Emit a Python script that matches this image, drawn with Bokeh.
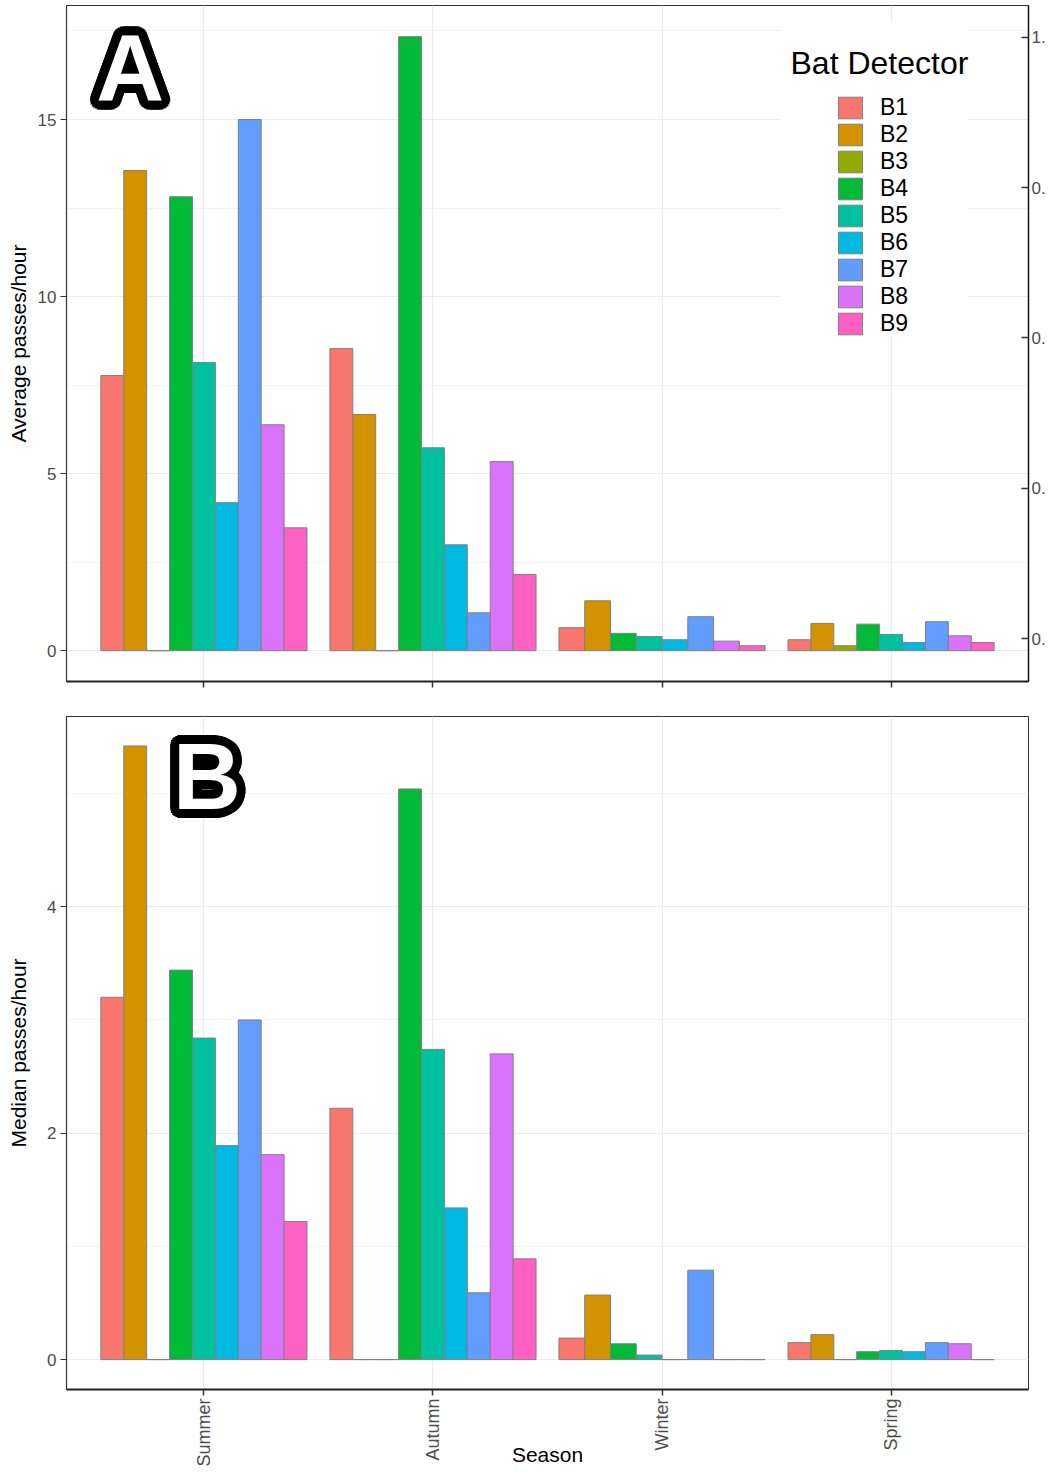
import math
from bokeh.plotting import figure
from bokeh.models import (Range1d, LinearAxis, FixedTicker, SingleIntervalTicker,
                          Label, BoxAnnotation)
from bokeh.layouts import column
from bokeh.embed import file_html
from bokeh.resources import INLINE

# ---------------- data ----------------
seasons = ["Summer", "Autumn", "Winter", "Spring"]
detectors = ["B1", "B2", "B3", "B4", "B5", "B6", "B7", "B8", "B9"]
colors = ["#F8766D", "#D39200", "#93AA00", "#00BA38", "#00C19F",
          "#00B9E3", "#619CFF", "#DB72FB", "#FF61C3"]

# Average passes/hour (None = detector not present that season)
avg_summer = [7.77, 13.56, 0.0, 12.82, 8.14, 4.18, 15.00, 6.38, 3.47]
avg_autumn = [8.53, 6.67, 0.0, 17.34, 5.73, 2.99, 1.07, 5.34, 2.15]
avg_winter = [0.65, 1.41, None, 0.49, 0.40, 0.31, 0.96, 0.27, 0.14]
avg_spring = [0.31, 0.77, 0.14, 0.75, 0.46, 0.23, 0.82, 0.42, 0.23]

# Median passes/hour
med_summer = [3.20, 5.42, 0.0, 3.44, 2.84, 1.89, 3.00, 1.81, 1.22]
med_autumn = [2.22, 0.0, 0.0, 5.04, 2.74, 1.34, 0.59, 2.70, 0.89]
med_winter = [0.19, 0.57, None, 0.14, 0.04, 0.0, 0.79, 0.0, 0.0]
med_spring = [0.15, 0.22, 0.0, 0.07, 0.08, 0.07, 0.15, 0.14, 0.0]

right_ticks = [0, 0.25, 0.5, 0.75, 1.0]
right_tick_labels = ["0.", "0.", "0.", "0.", "1."]

FONT = "Liberation Sans"
GRID = "#EBEBEB"
TICKLAB = "#4D4D4D"


def dodge(values):
    """position_dodge(0.9): split 0.9 of each category among present detectors"""
    out = {d: dict(x=[], top=[], width=[]) for d in detectors}
    for si, vals in enumerate(values):
        present = [i for i, v in enumerate(vals) if v is not None]
        w = 0.9 / len(present)
        for k, i in enumerate(present):
            out[detectors[i]]["x"].append(si + 1 - 0.45 + w * (k + 0.5))
            out[detectors[i]]["top"].append(vals[i])
            out[detectors[i]]["width"].append(w)
    return out


def style(p, ylabel, interval, label_standoff):
    p.outline_line_color = "#333333"
    p.outline_line_width = 1
    p.background_fill_color = "white"
    p.border_fill_color = "white"
    # x
    p.xaxis.ticker = FixedTicker(ticks=[1, 2, 3, 4], minor_ticks=[])
    p.xgrid.ticker = FixedTicker(ticks=[1, 2, 3, 4], minor_ticks=[])
    p.xgrid.grid_line_color = GRID
    p.xgrid.grid_line_width = 1.2
    p.xaxis.axis_line_color = "#222222"
    p.xaxis.axis_line_width = 2
    p.xaxis.major_tick_line_color = "#333333"
    p.xaxis.major_tick_line_width = 1.5
    p.xaxis.major_tick_out = 6
    p.xaxis.major_tick_in = 0
    p.xaxis.minor_tick_line_color = None
    # y
    p.yaxis.ticker = SingleIntervalTicker(interval=interval, num_minor_ticks=2)
    p.ygrid.grid_line_color = GRID
    p.ygrid.grid_line_width = 1.2
    p.ygrid.minor_grid_line_color = "#F0F0F0"
    p.ygrid.minor_grid_line_width = 0.8
    p.yaxis.axis_line_color = "#333333"
    p.yaxis.axis_line_width = 1.2
    p.yaxis.major_tick_line_color = "#333333"
    p.yaxis.major_tick_out = 6
    p.yaxis.major_tick_in = 0
    p.yaxis.minor_tick_line_color = None
    p.yaxis.major_label_text_font = FONT
    p.yaxis.major_label_text_font_size = "17px"
    p.yaxis.major_label_text_color = TICKLAB
    p.yaxis.major_label_standoff = 4
    p.yaxis.axis_label = ylabel
    p.yaxis.axis_label_text_font = FONT
    p.yaxis.axis_label_text_font_size = "21px"
    p.yaxis.axis_label_text_font_style = "normal"
    p.yaxis.axis_label_text_color = "black"
    p.yaxis.axis_label_standoff = label_standoff


def panel_letter(p, letter, x, y):
    for r, n in ((9, 28), (5, 16)):
        for k in range(n):
            a = 2 * math.pi * k / n
            p.add_layout(Label(x=x, y=y, text=letter, text_font=FONT, text_font_size="94px",
                               text_font_style="bold", text_color="black", text_align="center",
                               text_baseline="alphabetic", x_offset=r * math.cos(a),
                               y_offset=r * math.sin(a)))
    p.add_layout(Label(x=x, y=y, text=letter, text_font=FONT, text_font_size="94px",
                       text_font_style="bold", text_color="white", text_align="center",
                       text_baseline="alphabetic"))


# ---------------- panel A ----------------
pA = figure(width=1048, height=706, x_range=Range1d(0.4, 4.6), y_range=Range1d(-0.87, 18.22),
            output_backend="svg", toolbar_location=None,
            min_border_left=66, min_border_right=17, min_border_top=5, min_border_bottom=25)
style(pA, "Average passes/hour", 5, 5)
pA.xaxis.major_label_overrides = {1: "", 2: "", 3: "", 4: ""}
pA.xaxis.major_label_text_font_size = "0px"
pA.xaxis.major_label_standoff = 0

pA.extra_y_ranges = {"r": Range1d(-0.0715, 1.053)}
rax = LinearAxis(y_range_name="r", ticker=FixedTicker(ticks=right_ticks, minor_ticks=[]),
                 major_label_overrides=dict(zip(right_ticks, right_tick_labels)),
                 major_tick_in=7, major_tick_out=0, minor_tick_line_color=None,
                 axis_line_color="#111111", axis_line_width=1.5,
                 major_tick_line_color="#333333", major_tick_line_width=1.5,
                 major_label_standoff=3, major_label_text_font=FONT,
                 major_label_text_font_size="17px", major_label_text_color=TICKLAB)
pA.add_layout(rax, "right")

# white legend background panel
pA.add_layout(BoxAnnotation(left=3.52, right=4.34, bottom=8.9, top=17.75,
                            fill_color="white", fill_alpha=1.0, line_color=None, level="glyph"))

barsA = dodge([avg_summer, avg_autumn, avg_winter, avg_spring])
for d, c in zip(detectors, colors):
    pA.vbar(x=barsA[d]["x"], top=barsA[d]["top"], width=barsA[d]["width"], bottom=0,
            fill_color=c, line_color="#808080", line_width=1, legend_label=d)

lg = pA.legend[0]
lg.location = (769, 344)
lg.padding = 4
lg.margin = 0
lg.spacing = 0
lg.glyph_width = 30
lg.glyph_height = 27
lg.label_height = 24
lg.label_standoff = 15
lg.label_text_font = FONT
lg.label_text_font_size = "23px"
lg.label_text_color = "black"
lg.background_fill_color = "white"
lg.background_fill_alpha = 1.0
lg.border_line_color = None

pA.add_layout(Label(x=3.561, y=16.61, text="Bat Detector", text_font=FONT,
                    text_font_size="32px", text_color="black", text_baseline="alphabetic"))
panel_letter(pA, "A", 0.678, 16.44)

# ---------------- panel B ----------------
pB = figure(width=1048, height=765, x_range=Range1d(0.4, 4.6), y_range=Range1d(-0.264, 5.68),
            output_backend="svg", toolbar_location=None,
            min_border_left=66, min_border_right=17, min_border_top=10, min_border_bottom=82)
style(pB, "Median passes/hour", 2, 14)
pB.xaxis.major_label_overrides = {i + 1: s for i, s in enumerate(seasons)}
pB.xaxis.major_label_orientation = math.pi / 2
pB.xaxis.major_label_text_font = FONT
pB.xaxis.major_label_text_font_size = "18px"
pB.xaxis.major_label_text_color = TICKLAB
pB.xaxis.major_label_standoff = 3
pB.xaxis.axis_label = "Season"
pB.xaxis.axis_label_text_font = FONT
pB.xaxis.axis_label_text_font_size = "21px"
pB.xaxis.axis_label_text_font_style = "normal"
pB.xaxis.axis_label_text_color = "black"
pB.xaxis.axis_label_standoff = -27

barsB = dodge([med_summer, med_autumn, med_winter, med_spring])
for d, c in zip(detectors, colors):
    pB.vbar(x=barsB[d]["x"], top=barsB[d]["top"], width=barsB[d]["width"], bottom=0,
            fill_color=c, line_color="#808080", line_width=1)

panel_letter(pB, "B", 1.013, 5.15)

layout = column(pA, pB, spacing=0)
open("out.html", "w").write(file_html(layout, INLINE))
